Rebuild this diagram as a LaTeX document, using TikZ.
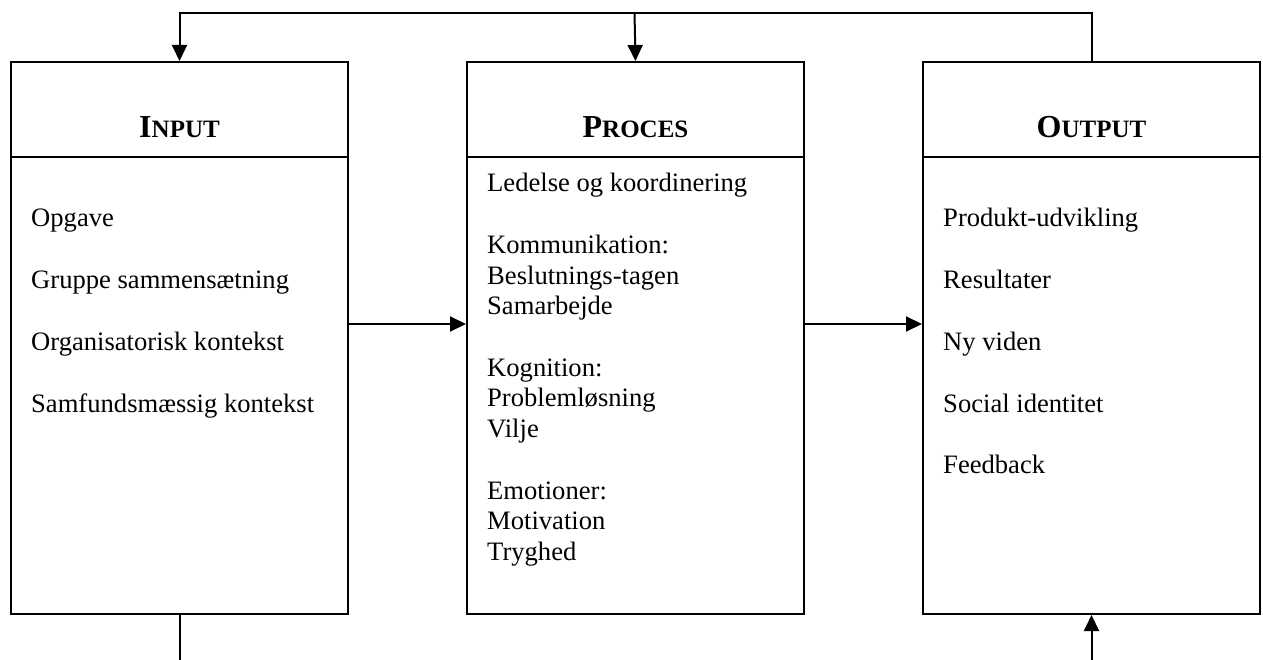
\documentclass[tikz,border=0pt]{standalone}
\usepackage{fontspec}
\setmainfont{Liberation Serif}
\usetikzlibrary{arrows.meta}
\newcommand{\boxtitle}[2]{{\fontsize{32}{32}\selectfont #1}{\fontsize{25}{25}\selectfont #2}}
\begin{document}
\begin{tikzpicture}[x=1pt,y=-1pt,
  frame/.style={draw,line width=2pt,rectangle,inner sep=0pt,anchor=north west},
  head/.style={frame,minimum width=337pt,minimum height=95pt},
  body/.style={frame,minimum width=337pt,minimum height=457pt},
  item/.style={anchor=base west,inner sep=0pt,font=\fontsize{26.6}{30.7}\selectfont},
  title/.style={anchor=base,inner sep=0pt,font=\bfseries},
  link/.style={line width=2pt},
  arr/.style={link,-{Triangle[length=16pt,width=15pt]}}]
\useasboundingbox (0,0) rectangle (1263,660);

% three columns: header part and body part
\node[head] (inh)  at (10,61) {};
\node[body] (inb)  at (10,156) {};
\node[head] (proh) at (466,61) {};
\node[body] (prob) at (466,156) {};
\node[head] (outh) at (922,61) {};
\node[body] (outb) at (922,156) {};

% helper coordinates
\coordinate (tbase) at (0,138);
\coordinate (loop)  at (634.5,13);
\coordinate (mid)   at (0,324);
\coordinate (floor) at (0,660);
\coordinate (inend)  at (inb.south |- floor);
\coordinate (outend) at (outb.south |- floor);

% titles
\node[title] (tin)  at (inh |- tbase)  {\boxtitle{I}{NPUT}};
\node[title] (tpro) at (proh |- tbase) {\boxtitle{P}{ROCES}};
\node[title] (tout) at (outh |- tbase) {\boxtitle{O}{UTPUT}};

% input items
\node[item] (i1) at (31,227)   {Opgave};
\node[item] (i2) at (31,288.7) {Gruppe sammensætning};
\node[item] (i3) at (31,350.4) {Organisatorisk kontekst};
\node[item] (i4) at (31,412)   {Samfundsmæssig kontekst};

% process items
\node[item] (p1)  at (487,192)   {Ledelse og koordinering};
\node[item] (p2)  at (487,253.4) {Kommunikation:};
\node[item] (p3)  at (487,284.1) {Beslutnings-tagen};
\node[item] (p4)  at (487,314.8) {Samarbejde};
\node[item] (p5)  at (487,376.2) {Kognition:};
\node[item] (p6)  at (487,406.9) {Problemløsning};
\node[item] (p7)  at (487,437.6) {Vilje};
\node[item] (p8)  at (487,499)   {Emotioner:};
\node[item] (p9)  at (487,529.7) {Motivation};
\node[item] (p10) at (487,560.4) {Tryghed};

% output items
\node[item] (o1) at (943,227)   {Produkt-udvikling};
\node[item] (o2) at (943,288.7) {Resultater};
\node[item] (o3) at (943,350.4) {Ny viden};
\node[item] (o4) at (943,412)   {Social identitet};
\node[item] (o5) at (943,473.7) {Feedback};

% connectors
\draw[arr] (inb.east |- mid) -- (prob.west |- mid);
\draw[arr] (prob.east |- mid) -- (outb.west |- mid);
\draw[arr] (outh.north) |- (loop) -| (inh.north);
\draw[arr] (loop) -- (proh.north);
\draw[link] (inb.south) -- (inend);
\draw[arr] (outend) -- (outb.south);
\end{tikzpicture}
\end{document}
